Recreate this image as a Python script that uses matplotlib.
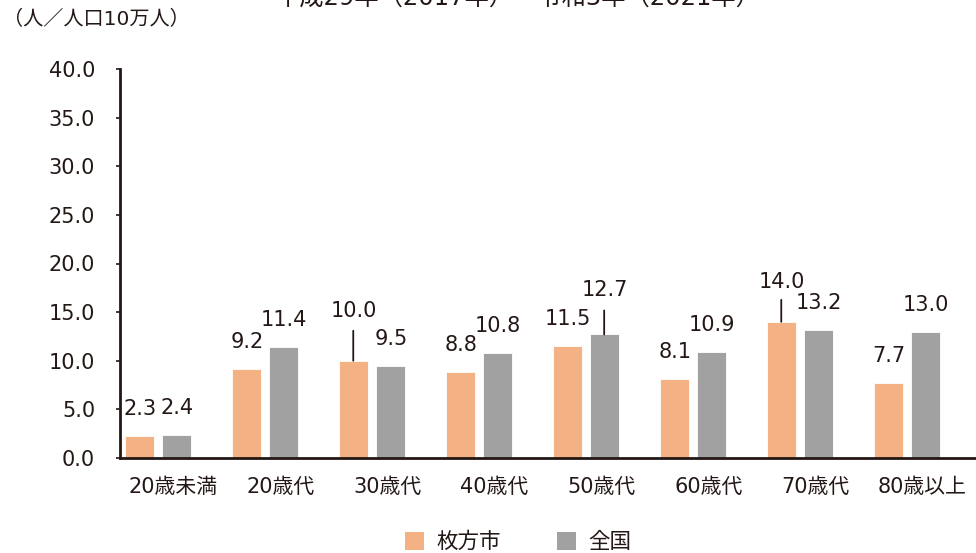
import matplotlib
matplotlib.use("Agg")
import matplotlib.pyplot as plt
import numpy as np
from matplotlib.patches import Patch

plt.rcParams['font.family'] = ['DejaVu Sans', 'Noto Sans CJK JP']

# Data: rate per 100,000 population by age group
categories = ["20歳未満", "20歳代", "30歳代", "40歳代", "50歳代", "60歳代", "70歳代", "80歳以上"]
hirakata = [2.3, 9.2, 10.0, 8.8, 11.5, 8.1, 14.0, 7.7]
national = [2.4, 11.4, 9.5, 10.8, 12.7, 10.9, 13.2, 13.0]
series_names = ["枚方市", "全国"]
yticks = [0, 5, 10, 15, 20, 25, 30, 35, 40]

title = "平成29年（2017年）～令和3年（2021年）"
unit_label = "（人／人口10万人）"

ORANGE = "#F4B183"
GRAY = "#A0A1A0"
INK = "#231815"

fig = plt.figure(figsize=(9.76, 5.53), dpi=100)
ax = fig.add_axes([120 / 976, 1 - 458 / 553, 1 - 120 / 976, (458 - 69) / 553])

x = np.arange(len(categories))
w = 0.27
xo = x - 0.32
xg = x + 0.025
ax.bar(xo, hirakata, width=w, color=ORANGE, edgecolor="white", linewidth=0.6, zorder=2)
ax.bar(xg, national, width=w, color=GRAY, edgecolor="white", linewidth=0.6, zorder=2)

ax.set_xlim(-0.5, 7.5)
ax.set_ylim(0, 40)
ax.set_yticks(yticks)
ax.set_yticklabels([f"{v:.1f}" for v in yticks])
ax.set_xticks(x)
ax.set_xticklabels(categories)
ax.tick_params(axis="x", length=0, pad=14, labelsize=15, colors=INK)
ax.tick_params(axis="y", length=3, width=1.2, pad=15, labelsize=15, colors=INK, direction="out")

for s in ["top", "right"]:
    ax.spines[s].set_visible(False)
for s in ["left", "bottom"]:
    ax.spines[s].set_color(INK)
    ax.spines[s].set_linewidth(2)


def label(xv, v, dx=1, dy=27, leader=0):
    """Value text above a bar, with an optional vertical leader line."""
    ax.annotate(f"{v:.1f}", xy=(xv, v), xytext=(dx, dy), textcoords="offset pixels",
                ha="center", va="center", fontsize=15, color=INK, zorder=3)
    if leader:
        ax.annotate("", xy=(xv, v), xytext=(0, leader), textcoords="offset pixels",
                    arrowprops=dict(arrowstyle="-", shrinkA=0, shrinkB=0, lw=1.3, color=INK))


orange_style = {2: dict(dy=50, leader=30), 6: dict(dy=40, leader=22)}
gray_style = {4: dict(dy=44, leader=24)}

for i in range(len(categories)):
    label(xo[i], hirakata[i], **orange_style.get(i, {}))
    label(xg[i], national[i], **gray_style.get(i, {}))

# unit and title
fig.text(3 / 976, 1 - 19 / 553, unit_label, ha="left", va="center", fontsize=14.5, color=INK)
fig.text(518 / 976, 1 - 6 / 553, title, ha="center", va="baseline", fontsize=17.5, color=INK)

# legend
handles = [Patch(facecolor=ORANGE), Patch(facecolor=GRAY)]
fig.legend(handles, series_names, loc="center", bbox_to_anchor=(518 / 976, 1 - 542 / 553),
           ncol=2, frameon=False, fontsize=15.5, handlelength=0.9, handleheight=0.9,
           handletextpad=0.55, columnspacing=2.6, labelcolor=INK)

fig.savefig("out.png", dpi=100)
